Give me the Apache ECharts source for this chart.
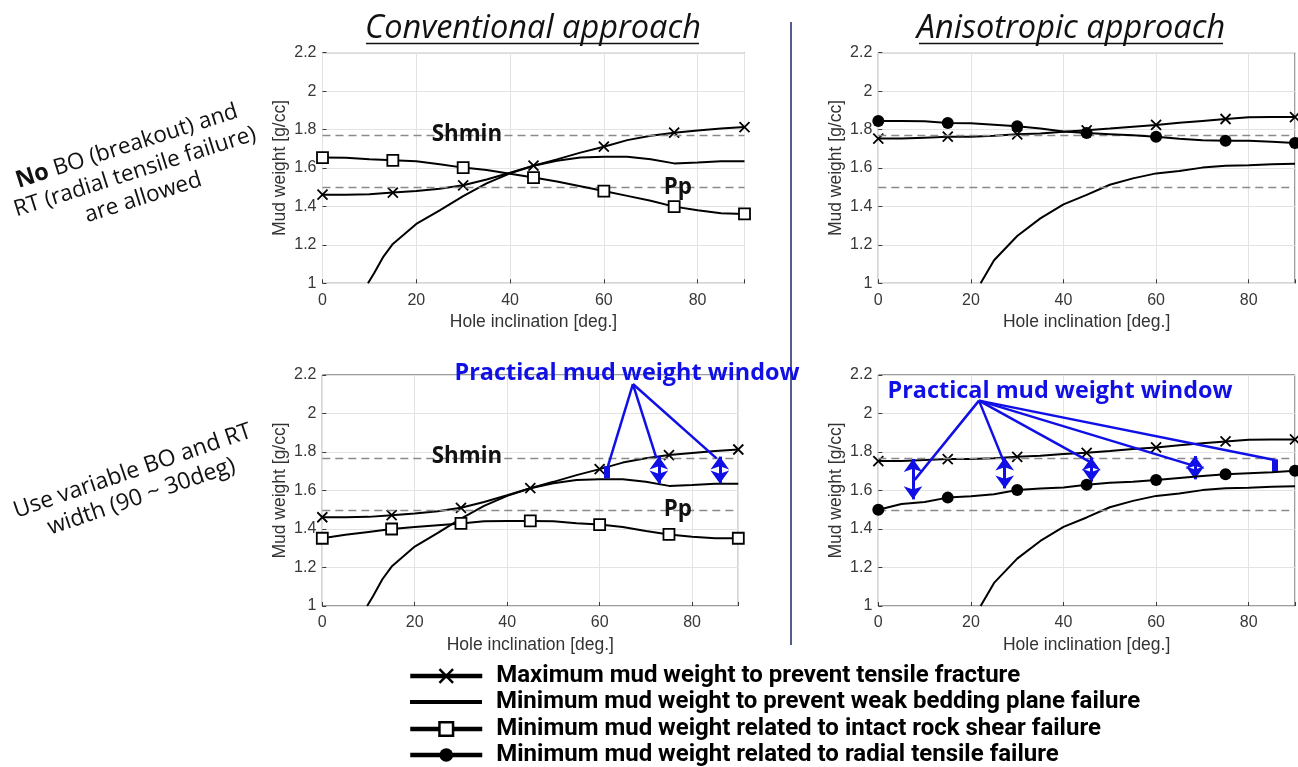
<!DOCTYPE html>
<html><head><meta charset="utf-8">
<script src="https://cdn.jsdelivr.net/npm/echarts@6/dist/echarts.min.js"></script>
<style>html,body{margin:0;padding:0;background:#fff}#c{width:1298px;height:767px}</style>
</head><body><div id="c"></div>
<script>
// ---------- data ----------
const inclination = [0,5,10,15,20,25,30,35,40,45,50,55,60,65,70,75,80,85,90];
const markerInclination = [0,15,30,45,60,75,90];

const convTensile = [1.461,1.461,1.463,1.472,1.48,1.492,1.51,1.54,1.575,1.612,1.645,1.68,1.711,1.745,1.768,1.784,1.795,1.805,1.813];
const convShearNoBO = [1.654,1.653,1.645,1.64,1.635,1.62,1.602,1.59,1.57,1.55,1.53,1.505,1.48,1.455,1.43,1.399,1.38,1.365,1.361];
const convShearVarBO = [1.352,1.37,1.385,1.40,1.41,1.42,1.429,1.44,1.442,1.442,1.44,1.43,1.423,1.41,1.39,1.372,1.36,1.352,1.352];
const convBeddingInc = [9.7,11,13,15,20,25,30,35,40,45,50,55,60,65,70,75,80,85,90];
const convBedding = [1.0,1.052,1.139,1.205,1.309,1.38,1.454,1.52,1.572,1.612,1.638,1.655,1.659,1.659,1.645,1.624,1.628,1.635,1.635];

const anisoTensile = [1.753,1.753,1.758,1.763,1.763,1.768,1.775,1.78,1.789,1.796,1.805,1.815,1.824,1.835,1.845,1.855,1.864,1.865,1.865];
const anisoRadialNoBO = [1.845,1.845,1.843,1.834,1.833,1.825,1.817,1.805,1.79,1.782,1.776,1.77,1.763,1.752,1.745,1.742,1.742,1.736,1.73];
const anisoRadialVarBO = [1.50,1.53,1.54,1.563,1.57,1.58,1.603,1.61,1.615,1.63,1.64,1.645,1.655,1.665,1.675,1.684,1.69,1.695,1.703];
const anisoBeddingInc = [22.1,25,30,35,40,45,50,55,60,65,70,75,80,85,90];
const anisoBedding = [1.0,1.12,1.246,1.338,1.411,1.46,1.513,1.546,1.572,1.584,1.602,1.612,1.614,1.62,1.622];

const shmin = 1.775;
const pp = 1.5;

// practical mud-weight window annotations
const convApex = [67.2, 2.153];
const convPointerInc = [61.8, 72.3, 85.3];
const convPointerMw = [1.727, 1.767, 1.767];
const convWindowInc = [61.5, 72.8, 86.0];
const convWindowTop = [1.727, 1.776, 1.776];
const convWindowBottom = [1.663, 1.637, 1.637];
const convWindowKind = ['bar', 'arrow', 'arrow'];

const anisoApex = [21.75, 2.067];
const anisoPointerInc = [7.85, 27.1, 45.6, 67.7, 85.6];
const anisoPointerMw = [1.655, 1.750, 1.750, 1.732, 1.758];
const anisoWindowInc = [7.5, 27.3, 46.0, 68.4, 85.6];
const anisoWindowTop = [1.764, 1.772, 1.772, 1.779, 1.762];
const anisoWindowBottom = [1.554, 1.611, 1.646, 1.658, 1.698];
const anisoWindowKind = ['arrow', 'arrow', 'arrow', 'arrow', 'bar'];

const xTicks = [0, 20, 40, 60, 80];
const yTicks = [1, 1.2, 1.4, 1.6, 1.8, 2, 2.2];

const NAME_T = 'Maximum mud weight to prevent tensile fracture';
const NAME_B = 'Minimum mud weight to prevent weak bedding plane failure';
const NAME_S = 'Minimum mud weight related to intact rock shear failure';
const NAME_R = 'Minimum mud weight related to radial tensile failure';

// ---------- build ----------
const BLUE = '#1010e6';
const FONT = 'Liberation Sans, Arial, sans-serif';
const grids = [
  {left: 322.5, top: 52.7, width: 422, height: 230.6},
  {left: 878.3, top: 52.7, width: 421, height: 230.6},
  {left: 322.3, top: 375, width: 416, height: 231},
  {left: 878.3, top: 375, width: 421, height: 231}
].map(g => Object.assign({show: true, borderColor: '#3a3a3a', borderWidth: 1, containLabel: false}, g));

const xAxes = grids.map((g, i) => ({
  type: 'value', gridIndex: i, min: 0, max: 90, interval: 20,
  name: 'Hole inclination [deg.]', nameLocation: 'middle', nameGap: 30,
  nameTextStyle: {fontFamily: FONT, fontSize: 17.5, color: '#333'},
  axisLine: {show: false},
  axisTick: {show: true, inside: true, length: 4, lineStyle: {color: '#3a3a3a'}},
  axisLabel: {fontFamily: FONT, fontSize: 16, color: '#383838', margin: 9,
    formatter: v => xTicks.includes(v) ? String(v) : ''},
  splitLine: {show: true, lineStyle: {color: '#e3e3e3', width: 1}}
}));
const yAxes = grids.map((g, i) => ({
  type: 'value', gridIndex: i, min: 1, max: 2.2, interval: 0.2,
  name: 'Mud weight [g/cc]', nameLocation: 'middle', nameGap: 33, nameRotate: 90,
  nameTextStyle: {fontFamily: FONT, fontSize: 17.5, color: '#333'},
  axisLine: {show: false},
  axisTick: {show: true, inside: true, length: 4, lineStyle: {color: '#3a3a3a'}},
  axisLabel: {fontFamily: FONT, fontSize: 16, color: '#383838', margin: 6,
    formatter: v => {const t = yTicks.find(k => Math.abs(k - v) < 1e-6); return t === undefined ? '' : String(t);}},
  splitLine: {show: true, lineStyle: {color: '#e3e3e3', width: 1}}
}));

const markerSize = s => (v => markerInclination.some(m => Math.abs(m - v[0]) < 1e-6) ? s : 0);
const pairs = (xs, ys) => xs.map((x, i) => [x, ys[i]]);

function tensileSeries(idx, ys, labels) {
  return {
    name: NAME_T, type: 'line', xAxisIndex: idx, yAxisIndex: idx,
    data: pairs(inclination, ys), showAllSymbol: true,
    symbol: 'path://M0,0L10,10M10,0L0,10', symbolSize: markerSize(10),
    itemStyle: {color: 'none', borderColor: '#000', borderWidth: 1.8},
    lineStyle: {color: '#000', width: 2}, z: 4,
    markLine: {
      silent: true, symbol: ['none', 'none'], label: {show: false},
      lineStyle: {type: [8, 5], color: '#8a8a8a', width: 1.4},
      data: [{yAxis: shmin}, {yAxis: pp}]
    },
    markPoint: labels ? {
      silent: true, symbol: 'rect', symbolSize: 0,
      label: {show: true, formatter: '{b}', fontFamily: 'Open Sans, sans-serif', fontWeight: 'bold', fontSize: 22.3, color: '#111'},
      data: labels
    } : undefined
  };
}
function beddingSeries(idx, xs, ys) {
  return {
    name: NAME_B, type: 'line', xAxisIndex: idx, yAxisIndex: idx,
    data: pairs(xs, ys), symbol: 'none', itemStyle: {color: '#000'}, lineStyle: {color: '#000', width: 2}, z: 3
  };
}
function windowMarks(apex, pInc, pMw, wInc, wTop, wBot, kind) {
  const d = [];
  pInc.forEach((x, i) => {
    d.push([{coord: apex, symbol: 'none', lineStyle: {color: BLUE, width: 2.5, type: 'solid'}},
            {coord: [x, pMw[i]], symbol: 'none'}]);
  });
  wInc.forEach((x, i) => {
    if (kind[i] === 'bar') {
      d.push([{coord: [x, wTop[i]], symbol: 'none', lineStyle: {color: BLUE, width: 6, type: 'solid'}},
              {coord: [x, wBot[i]], symbol: 'none'}]);
    } else {
      d.push([{coord: [x, wTop[i]], symbol: 'arrow', symbolSize: [14, 13], lineStyle: {color: BLUE, width: 3, type: 'solid'}},
              {coord: [x, wBot[i]], symbol: 'arrow', symbolSize: [14, 13]}]);
    }
  });
  return {silent: true, label: {show: false}, itemStyle: {color: BLUE}, data: d};
}
function lowerSeries(idx, name, ys, sym, marks) {
  const st = sym === 'rect'
    ? {symbol: 'rect', symbolSize: markerSize(11), itemStyle: {color: '#fff', borderColor: '#000', borderWidth: 1.8}}
    : {symbol: 'circle', symbolSize: markerSize(12), itemStyle: {color: '#000', borderColor: '#000', borderWidth: 0}};
  return Object.assign({
    name: name, type: 'line', xAxisIndex: idx, yAxisIndex: idx,
    data: pairs(inclination, ys), showAllSymbol: true,
    lineStyle: {color: '#000', width: 2}, z: 5, markLine: marks
  }, st);
}

const series = [
  tensileSeries(0, convTensile, [{name: 'Shmin', coord: [30.8, shmin]}, {name: 'Pp', coord: [75.8, pp]}]),
  beddingSeries(0, convBeddingInc, convBedding),
  lowerSeries(0, NAME_S, convShearNoBO, 'rect'),
  tensileSeries(1, anisoTensile),
  beddingSeries(1, anisoBeddingInc, anisoBedding),
  lowerSeries(1, NAME_R, anisoRadialNoBO, 'circle'),
  tensileSeries(2, convTensile, [{name: 'Shmin', coord: [31.3, shmin]}, {name: 'Pp', coord: [76.9, pp]}]),
  beddingSeries(2, convBeddingInc, convBedding),
  lowerSeries(2, NAME_S, convShearVarBO, 'rect',
    windowMarks(convApex, convPointerInc, convPointerMw, convWindowInc, convWindowTop, convWindowBottom, convWindowKind)),
  tensileSeries(3, anisoTensile),
  beddingSeries(3, anisoBeddingInc, anisoBedding),
  lowerSeries(3, NAME_R, anisoRadialVarBO, 'circle',
    windowMarks(anisoApex, anisoPointerInc, anisoPointerMw, anisoWindowInc, anisoWindowTop, anisoWindowBottom, anisoWindowKind))
];

const legendFont = 'Roboto, sans-serif';
const legendRows = [
  {name: NAME_T, cy: 676, left: 408, itemStyle: {color: 'none', borderColor: '#000', borderWidth: 2.5}},
  {name: NAME_B, cy: 702, left: 410, icon: 'rect', ih: 4, itemStyle: {color: '#000'}},
  {name: NAME_S, cy: 729, left: 408, itemStyle: {color: '#fff', borderColor: '#000', borderWidth: 2.5}},
  {name: NAME_R, cy: 755, left: 408, itemStyle: {color: '#000'}}
];
const legends = legendRows.map(r => ({
  orient: 'vertical', left: r.left, top: r.cy - 12, padding: 0,
  itemWidth: 72, itemHeight: r.ih || 17, selectedMode: false,
  lineStyle: {width: 4.5, color: '#000'},
  textStyle: {fontFamily: legendFont, fontWeight: 'bold', fontSize: 24, color: '#000', lineHeight: 24, padding: [0, 0, 0, 9]},
  data: [Object.assign({name: r.name, itemStyle: r.itemStyle}, r.icon ? {icon: r.icon} : {})]
}));

const option = {
  animation: false,
  backgroundColor: '#fff',
  grid: grids, xAxis: xAxes, yAxis: yAxes, series: series,
  legend: legends,
  graphic: [
    {type: 'text', x: 533, y: 28.5, style: {text: 'Conventional approach', font: 'italic 32.5px "Open Sans", sans-serif', fill: '#111', align: 'center', verticalAlign: 'middle'}},
    {type: 'line', shape: {x1: 366, y1: 43.5, x2: 699, y2: 43.5}, style: {stroke: '#111', lineWidth: 1.5}},
    {type: 'text', x: 1071, y: 28.5, style: {text: 'Anisotropic approach', font: 'italic 32.5px "Open Sans", sans-serif', fill: '#111', align: 'center', verticalAlign: 'middle'}},
    {type: 'line', shape: {x1: 919, y1: 43.5, x2: 1223, y2: 43.5}, style: {stroke: '#111', lineWidth: 1.5}},
    {type: 'line', shape: {x1: 791, y1: 22, x2: 791, y2: 645}, style: {stroke: '#2a3470', lineWidth: 1.6}},
    {type: 'text', x: 135, y: 172, rotation: 0.309, style: {
      text: '{b|No} BO (breakout) and\nRT (radial tensile failure)\nare allowed',
      font: '22.5px "Open Sans", sans-serif', fill: '#111', align: 'center', verticalAlign: 'middle', lineHeight: 27,
      rich: {b: {fontWeight: 'bold', fontSize: 23.5, fontFamily: 'Open Sans', fill: '#111', lineHeight: 27}}}},
    {type: 'text', x: 137, y: 484, rotation: 0.33, style: {
      text: 'Use variable BO and RT\nwidth (90 ~ 30deg)',
      font: '23px "Open Sans", sans-serif', fill: '#111', align: 'center', verticalAlign: 'middle', lineHeight: 27}},
    {type: 'text', x: 627, y: 373, z: 10, style: {text: 'Practical mud weight window', font: 'bold 23.4px "Open Sans", sans-serif', fill: BLUE, align: 'center', verticalAlign: 'middle'}},
    {type: 'text', x: 1060, y: 391, z: 10, style: {text: 'Practical mud weight window', font: 'bold 23.4px "Open Sans", sans-serif', fill: BLUE, align: 'center', verticalAlign: 'middle'}}
  ]
};
const chart = echarts.init(document.getElementById('c'), null, {renderer: 'canvas'});
chart.setOption(option);
</script>
</body></html>
